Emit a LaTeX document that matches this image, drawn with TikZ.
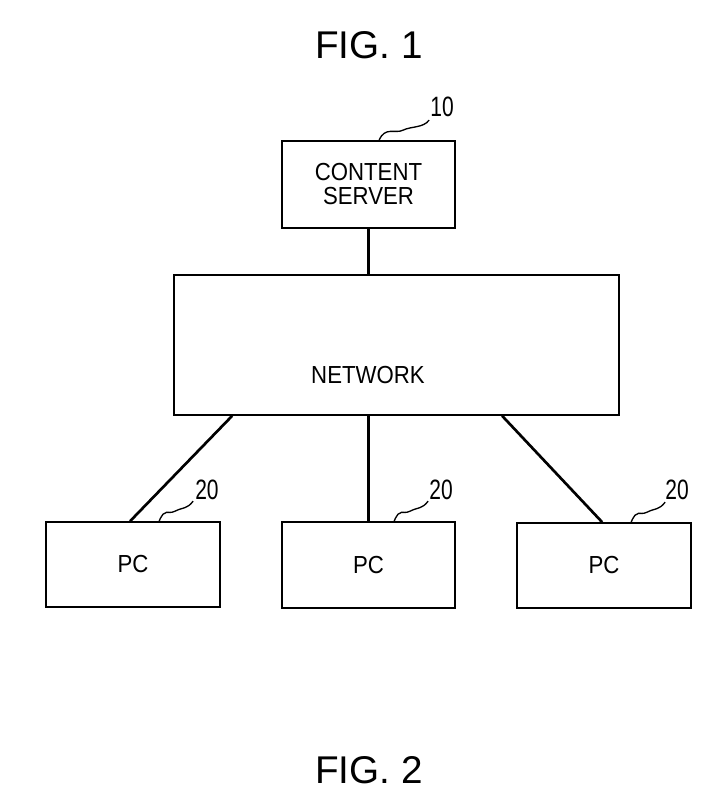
\documentclass[tikz,border=0pt]{standalone}
\usepackage{fontspec}
\setmainfont{Liberation Sans}
\newfontfamily\narrowfont{Liberation Sans}[FakeStretch=0.9]
\newfontfamily\labfont{Liberation Sans}[FakeStretch=0.75]
\begin{document}
\begin{tikzpicture}[x=0.75pt,y=-0.75pt,
  boxtext/.style={font=\narrowfont\fontsize{18.5}{18}\selectfont,align=center},
  box/.style={draw,line width=1.3pt,inner sep=0pt,boxtext},
  link/.style={line width=2pt},
  squig/.style={line width=1pt},
  reflab/.style={font=\labfont\fontsize{21}{21}\selectfont,inner sep=0pt},
  figlab/.style={font=\fontsize{29}{29}\selectfont,inner sep=0pt}]
\useasboundingbox (0,0) rectangle (711,796);
\node[figlab] (fig1) at (369,45) {FIG. 1};
\node[figlab] (fig2) at (369,770) {FIG. 2};
\node[box,minimum width=173*0.75pt,minimum height=87*0.75pt] (server) at (368.5,184.5) {CONTENT\\SERVER};
\node[box,minimum width=445*0.75pt,minimum height=140*0.75pt,
  label={[boxtext,inner sep=0pt,anchor=center,xshift=-21.4pt,yshift=-22.5pt]center:NETWORK}] (net) at (396.5,345) {};
\node[box,minimum width=174*0.75pt,minimum height=85*0.75pt] (pc1) at (133,564.5) {PC};
\node[box,minimum width=173*0.75pt,minimum height=86*0.75pt] (pc2) at (368.5,565) {PC};
\node[box,minimum width=174*0.75pt,minimum height=85*0.75pt] (pc3) at (604,565.5) {PC};
\draw[link] (server.south) -- (server.south |- net.north);
\draw[link] ([xshift=59*0.75pt]net.south west) -- ([xshift=85*0.75pt]pc1.north west);
\draw[link] (pc2.north |- net.south) -- (pc2.north);
\draw[link] ([xshift=329*0.75pt]net.south west) -- ([xshift=86*0.75pt]pc3.north west);
\node[reflab] (l10) at (442,107) {10};
\node[reflab] (l20a) at (207,490) {20};
\node[reflab] (l20b) at (441,490) {20};
\node[reflab] (l20c) at (677,490) {20};
\draw[squig] ([xshift=98*0.75pt]server.north west) .. controls ++(6,-14) and ++(-8,4) .. ++(24,-10) .. controls ++(8,-4) and ++(-6,8) .. ++(26,-10);
\draw[squig] ([xshift=114*0.75pt]pc1.north west) .. controls ++(6,-14) and ++(-8,4) .. ++(16,-10) .. controls ++(8,-4) and ++(-6,8) .. ++(18,-10);
\draw[squig] ([xshift=113*0.75pt]pc2.north west) .. controls ++(6,-14) and ++(-8,4) .. ++(16,-10) .. controls ++(8,-4) and ++(-6,8) .. ++(18,-10);
\draw[squig] ([xshift=115*0.75pt]pc3.north west) .. controls ++(6,-14) and ++(-8,4) .. ++(16,-10) .. controls ++(8,-4) and ++(-6,8) .. ++(18,-10);
\end{tikzpicture}
\end{document}
